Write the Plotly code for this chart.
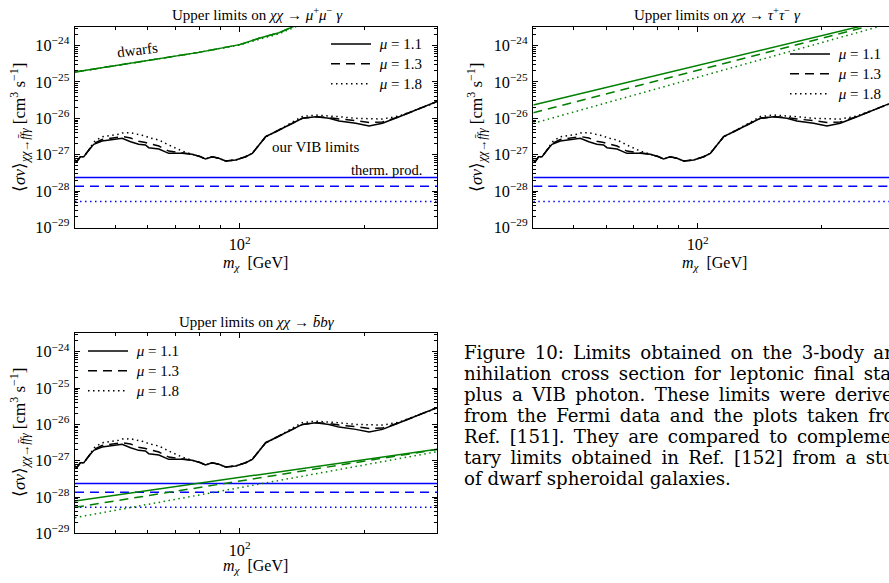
import plotly.graph_objects as go
import math

# ---------------- data ----------------
m_vib = [40, 40.4, 41.2, 42.0, 43.2, 44.4, 46.5, 48.7, 51.0, 52.0, 54.5, 57.0, 59.2, 60.3,
         63.8, 67.4, 72.6, 76.8, 80.5, 82.7, 85.8, 89.1, 92.5, 97.8, 103.4, 107.3, 111.4,
         115.6, 122.2, 131.6, 141.8, 152.8, 164.5, 173.9, 190.9, 205.6, 221.4, 243.1,
         266.8, 287.3, 300]
vib_mu11 = [7.15e-28, 6.42e-28, 8.81e-28, 8.81e-28, 1.345e-27, 1.93e-27, 2.38e-27, 2.54e-27,
            2.70e-27, 2.83e-27, 2.28e-27, 1.93e-27, 1.85e-27, 1.56e-27, 1.44e-27, 1.09e-27,
            1.09e-27, 1.03e-27, 8.81e-28, 7.6e-28, 8.81e-28, 7.96e-28, 6.71e-28, 7.15e-28,
            8.81e-28, 1.09e-27, 1.85e-27, 3.13e-27, 4.29e-27, 6.55e-27, 1.0e-26, 1.11e-26,
            1.0e-26, 8.43e-27, 7.30e-27, 6.14e-27, 7.30e-27, 1.11e-26, 1.69e-26, 2.32e-26,
            2.90e-26]
vib_mu13 = [7.15e-28, 6.42e-28, 8.81e-28, 8.81e-28, 1.345e-27, 2.03e-27, 2.62e-27, 2.88e-27,
            3.06e-27, 3.16e-27, 2.88e-27, 2.35e-27, 2.16e-27, 2.03e-27, 1.73e-27, 1.26e-27,
            1.11e-27, 1.03e-27, 8.81e-28, 7.6e-28, 8.81e-28, 7.96e-28, 6.71e-28, 7.15e-28,
            8.81e-28, 1.09e-27, 1.85e-27, 3.13e-27, 4.29e-27, 6.55e-27, 1.0e-26, 1.11e-26,
            1.05e-26, 9.57e-27, 8.71e-27, 7.67e-27, 7.91e-27, 1.11e-26, 1.69e-26, 2.32e-26,
            2.90e-26]
vib_mu18 = [7.15e-28, 6.42e-28, 8.81e-28, 8.81e-28, 1.345e-27, 2.23e-27, 3.13e-27, 3.37e-27,
            3.63e-27, 3.94e-27, 4.02e-27, 3.59e-27, 3.27e-27, 2.93e-27, 2.54e-27, 1.85e-27,
            1.26e-27, 1.03e-27, 8.81e-28, 7.6e-28, 8.81e-28, 7.96e-28, 6.71e-28, 7.15e-28,
            8.81e-28, 1.09e-27, 1.85e-27, 3.13e-27, 4.29e-27, 6.97e-27, 1.12e-26, 1.23e-26,
            1.19e-26, 1.11e-26, 1.0e-26, 9.57e-27, 9.57e-27, 1.16e-26, 1.69e-26, 2.32e-26,
            2.90e-26]

m_range = [40, 300]
# thermal production (blue horizontal lines) for mu = 1.1, 1.3, 1.8
therm = [2.35e-28, 1.35e-28, 5.2e-29]

# dwarfs, mu+mu- gamma
m_dw_mu = [40, 63.8, 79.7, 100, 111.4, 124.5, 133.1, 140]
dw_mu_11 = [1.87e-25, 4.45e-25, 6.50e-25, 1.06e-24, 1.58e-24, 2.25e-24, 3.2e-24, 4.0e-24]
dw_mu_13 = [1.87e-25, 4.45e-25, 6.50e-25, 1.06e-24, 1.58e-24, 2.25e-24, 3.2e-24, 4.0e-24]
dw_mu_18 = [1.87e-25, 4.45e-25, 6.50e-25, 1.04e-24, 1.50e-24, 2.10e-24, 2.9e-24, 3.7e-24]
# dwarfs, tau+tau- gamma
dw_tau_11 = [2.32e-26, 5.7e-24]
dw_tau_13 = [1.43e-26, 5.2e-24]
dw_tau_18 = [7.3e-27, 4.4e-24]
# dwarfs, b bbar gamma
dw_b_11 = [7.8e-29, 2.06e-27]
dw_b_13 = [5.2e-29, 2.03e-27]
dw_b_18 = [2.7e-29, 1.77e-27]

mu_labels = ["1.1", "1.3", "1.8"]

# ---------------- figure ----------------
W, H = 889, 583
SERIF = "Liberation Serif"
GREEN = "#008000"
BLUE = "#0000ff"
dashes = ["solid", "9px,6px", "1.5px,3.5px"]


def px(x):
    return x / W


def py(y):
    return 1 - y / H


fig = go.Figure()

panels = [
    dict(ax="", dw_m=m_dw_mu, dw=[dw_mu_11, dw_mu_13, dw_mu_18], legend="legend"),
    dict(ax="2", dw_m=m_range, dw=[dw_tau_11, dw_tau_13, dw_tau_18], legend="legend2"),
    dict(ax="3", dw_m=m_range, dw=[dw_b_11, dw_b_13, dw_b_18], legend="legend3"),
]
vibs = [vib_mu11, vib_mu13, vib_mu18]

for p in panels:
    xa, ya = "x" + p["ax"], "y" + p["ax"]
    for i in range(3):
        fig.add_trace(go.Scatter(x=m_range, y=[therm[i], therm[i]], mode="lines",
                                 line=dict(color=BLUE, width=1.5, dash=dashes[i]),
                                 showlegend=False, xaxis=xa, yaxis=ya, hoverinfo="skip"))
    for i in range(3):
        fig.add_trace(go.Scatter(x=p["dw_m"], y=p["dw"][i], mode="lines",
                                 line=dict(color=GREEN, width=1.5, dash=dashes[i]),
                                 showlegend=False, xaxis=xa, yaxis=ya, hoverinfo="skip"))
    for i in range(3):
        fig.add_trace(go.Scatter(x=m_vib, y=vibs[i], mode="lines",
                                 line=dict(color="black", width=1.5, dash=dashes[i]),
                                 name="<span style='font-size:15px'>\u00a0<i>μ</i>\u00a0=\u00a0"
                                      + mu_labels[i] + "</span>",
                                 legend=p["legend"], xaxis=xa, yaxis=ya, hoverinfo="skip"))

lx0 = math.log10(40)
px_per_dec = 413.0
xr_full = [lx0, math.log10(300)]
xr_cut = [lx0, lx0 + (W - 533.3) / px_per_dec]
yr = [-29, -23.49]

axis_common = dict(type="log", showline=True, linecolor="black", linewidth=1,
                   ticks="inside", ticklen=5, tickcolor="black", tickwidth=1,
                   showgrid=False, zeroline=False, dtick=1, exponentformat="power",
                   automargin=False,
                   tickfont=dict(family=SERIF, size=13, color="black"))
minor = dict(ticks="inside", ticklen=3, dtick="D1", tickcolor="black")

dom_x1 = [px(75), px(437)]
dom_x2 = [px(533.3), 1.0]
dom_y1 = [py(227.5), py(27)]
dom_y3 = [py(533.3), py(333.3)]

fig.update_layout(
    width=W, height=H, margin=dict(l=0, r=0, t=0, b=0, pad=0, autoexpand=False),
    paper_bgcolor="white", plot_bgcolor="white",
    font=dict(family=SERIF, color="black"),
    xaxis=dict(axis_common, domain=dom_x1, range=xr_full, anchor="y", mirror="allticks",
               minor=minor, ticklabelstandoff=3),
    yaxis=dict(axis_common, domain=dom_y1, range=yr, anchor="x", mirror="allticks",
               minor=minor, ticklabelstandoff=2),
    xaxis2=dict(axis_common, domain=dom_x2, range=xr_cut, anchor="y2", mirror="allticks",
                minor=minor, ticklabelstandoff=3),
    yaxis2=dict(axis_common, domain=dom_y1, range=yr, anchor="x2", mirror=False,
                minor=minor, ticklabelstandoff=2),
    xaxis3=dict(axis_common, domain=dom_x1, range=xr_full, anchor="y3", mirror="allticks",
                minor=minor, ticklabelstandoff=3),
    yaxis3=dict(axis_common, domain=dom_y3, range=yr, anchor="x3", mirror="allticks",
                minor=minor, ticklabelstandoff=2),
)

leg_common = dict(bgcolor="rgba(0,0,0,0)", borderwidth=0, xanchor="left", yanchor="top",
                  font=dict(family=SERIF, size=13, color="black"), tracegroupgap=0,
                  itemwidth=40)
fig.update_layout(
    legend=dict(leg_common, x=px(326), y=py(29)),
    legend2=dict(leg_common, x=px(785), y=py(39)),
    legend3=dict(leg_common, x=px(83), y=py(336)),
)

ann = []
def text(x, y, s, size=13, xanchor="center", angle=0, family=SERIF):
    ann.append(dict(x=px(x), y=py(y), xref="paper", yref="paper", text=s, showarrow=False,
                    xanchor=xanchor, yanchor="middle", textangle=angle,
                    font=dict(family=family, size=size, color="black")))

# panel titles
text(257, 14, "Upper limits on <i>χχ</i> → <i>μ</i><sup>+</sup><i>μ</i><sup>−</sup> <i>γ</i>", 15)
text(717, 14, "Upper limits on <i>χχ</i> → <i>τ</i><sup>+</sup><i>τ</i><sup>−</sup> <i>γ</i>", 15)
text(257, 322, "Upper limits on <i>χχ</i> → <i>b\u0304bγ</i>", 15)

ylab = "⟨<i>σv</i>⟩<sub><i>χχ</i>→<i>f\u0304fγ</i></sub> [cm<sup>3</sup> s<sup>−1</sup>]"
text(19, 128, ylab, 17, angle=-90)
text(476, 128, ylab, 17, angle=-90)
text(19, 433, ylab, 17, angle=-90)

xlab = "<i>m<sub>χ</sub></i>  [GeV]"
text(255, 263, xlab, 16)
text(714, 263, xlab, 16)
text(255, 566, xlab, 16)

text(137, 50, "dwarfs", 15, angle=-7)
text(270, 147, "our VIB limits", 15, xanchor="left")
text(424, 170, "therm. prod.", 14.5, xanchor="right")

caption = [
    "Figure 10: Limits obtained on the 3-body an-",
    "nihilation cross section for leptonic final states",
    "plus a VIB photon. These limits were derived",
    "from the Fermi data and the plots taken from",
    "Ref. [151]. They are compared to complemen-",
    "tary limits obtained in Ref. [152] from a study",
    "of dwarf spheroidal galaxies.",
]
for k, line in enumerate(caption):
    s = line if k == len(caption) - 1 else line.replace(" ", " \u2009")
    text(462, 352 + 21 * k, s, 18.2, xanchor="left", family="DejaVu Serif")

fig.update_layout(annotations=ann)

post = "document.documentElement.style.margin='0px';document.body.style.margin='0px';"
fig.write_html("out.html", post_script=post, config={"displayModeBar": False})
